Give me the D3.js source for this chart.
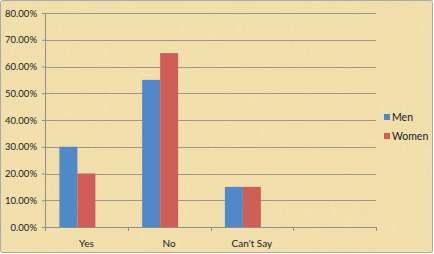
<!DOCTYPE html>
<html>
<head>
<meta charset="utf-8">
<script src="https://cdn.jsdelivr.net/npm/d3@7"></script>
<style>
  html, body { margin: 0; padding: 0; background: #fff; }
  text { font-family: Lato, "Open Sans", sans-serif; fill: #1a1a1a; }
</style>
</head>
<body>
<div id="chart"></div>
<script>
// data
const categories = ["Yes", "No", "Can't Say", ""];
const seriesNames = ["Men", "Women"];
const menValues = [0.30, 0.55, 0.15, null];
const womenValues = [0.20, 0.65, 0.15, null];
const yTicks = [0, 0.1, 0.2, 0.3, 0.4, 0.5, 0.6, 0.7, 0.8];
const colors = ["#5088c8", "#cf5d58"];

const width = 434, height = 254;
const margin = {top: 13, right: 58, bottom: 27, left: 45};

const svg = d3.select("#chart").append("svg")
	.attr("width", width)
	.attr("height", height);

// papyrus-ish background
const defs = svg.append("defs");
const filt = defs.append("filter").attr("id", "papyrus")
	.attr("x", 0).attr("y", 0).attr("width", "100%").attr("height", "100%");
filt.append("feTurbulence")
	.attr("type", "fractalNoise")
	.attr("baseFrequency", "0.9 0.05")
	.attr("numOctaves", 2).attr("seed", 3).attr("result", "n1");
filt.append("feTurbulence")
	.attr("type", "fractalNoise")
	.attr("baseFrequency", "0.05 0.9")
	.attr("numOctaves", 2).attr("seed", 7).attr("result", "n2");
filt.append("feComposite").attr("in", "n1").attr("in2", "n2")
	.attr("operator", "arithmetic").attr("k2", 0.5).attr("k3", 0.5).attr("result", "n");
filt.append("feColorMatrix").attr("in", "n").attr("type", "matrix")
	.attr("values", "0 0 0 0 0.80  0 0 0 0 0.68  0 0 0 0 0.42  1.2 0 0 0 -0.45")
	.attr("result", "tint");
filt.append("feComposite").attr("in", "tint").attr("in2", "SourceGraphic").attr("operator", "over");

svg.append("rect")
	.attr("x", 0.5).attr("y", 0.5)
	.attr("width", width - 2).attr("height", height - 2)
	.attr("rx", 2)
	.attr("fill", "#f3e0ac")
	.attr("filter", "url(#papyrus)");
svg.append("rect")
	.attr("x", 0.5).attr("y", 0.5)
	.attr("width", width - 2).attr("height", height - 2)
	.attr("rx", 2)
	.attr("fill", "none")
	.attr("stroke", "#a9a9a9");

const iw = width - margin.left - margin.right;
const ih = 214;

const x = d3.scaleBand().domain(categories).range([0, iw]).paddingInner(0).paddingOuter(0);
// third slot is an empty series, which is why the bars sit left of the label
const xs = d3.scaleBand().domain([0, 1, 2]).range([0, x.bandwidth()]).paddingInner(0).paddingOuter(0.8);
const y = d3.scaleLinear().domain([0, 0.8]).range([ih, 0]);

const g = svg.append("g").attr("transform", "translate(" + margin.left + "," + margin.top + ")");

// gridlines
g.append("g").selectAll("line")
	.data(yTicks.slice(1))
	.enter().append("line")
		.attr("x1", 0).attr("x2", iw)
		.attr("y1", d => Math.round(y(d)) + 0.5).attr("y2", d => Math.round(y(d)) + 0.5)
		.attr("stroke", "#9e9886").attr("stroke-width", 1);

// bars
const rows = categories.map((c, i) => ({cat: c, vals: [menValues[i], womenValues[i]]}));
const grp = g.append("g").selectAll("g")
	.data(rows)
	.enter().append("g")
		.attr("transform", d => "translate(" + x(d.cat) + ",0)");
grp.selectAll("rect")
	.data(d => d.vals.map((v, k) => ({k: k, v: v})).filter(e => e.v != null))
	.enter().append("rect")
		.attr("x", d => xs(d.k))
		.attr("width", xs.bandwidth())
		.attr("y", d => y(d.v))
		.attr("height", d => ih - y(d.v))
		.attr("fill", d => colors[d.k]);

// y axis
const yAxis = g.append("g")
	.call(d3.axisLeft(y).tickValues(yTicks).tickFormat(d3.format(".2%")).tickSize(3).tickPadding(5));
yAxis.select(".domain").attr("stroke", "#8f8f8f");
yAxis.selectAll(".tick line").attr("stroke", "#8f8f8f");
yAxis.selectAll("text").attr("font-size", "9.5px").attr("fill", "#1a1a1a")
	.style("font-family", "Lato, 'Open Sans', sans-serif");

// x axis
const xAxis = g.append("g")
	.attr("transform", "translate(0," + ih + ")")
	.call(d3.axisBottom(x).tickSize(0).tickPadding(13));
xAxis.select(".domain").attr("stroke", "#8f8f8f");
xAxis.selectAll("text").attr("font-size", "10px").attr("fill", "#1a1a1a")
	.style("font-family", "Lato, 'Open Sans', sans-serif");
g.append("g").selectAll("line")
	.data(d3.range(categories.length + 1))
	.enter().append("line")
		.attr("x1", d => Math.round(d * x.bandwidth()) + 0.5)
		.attr("x2", d => Math.round(d * x.bandwidth()) + 0.5)
		.attr("y1", ih).attr("y2", ih + 4)
		.attr("stroke", "#8f8f8f");

// legend
const legend = svg.append("g").attr("transform", "translate(384,114)");
const li = legend.selectAll("g")
	.data(seriesNames)
	.enter().append("g")
		.attr("transform", (d, i) => "translate(0," + (i * 19) + ")");
li.append("rect").attr("width", 6).attr("height", 6).attr("fill", (d, i) => colors[i]);
li.append("text")
	.attr("x", 8).attr("y", 7)
	.attr("font-size", "10.5px")
	.text(d => d);
</script>
</body>
</html>
